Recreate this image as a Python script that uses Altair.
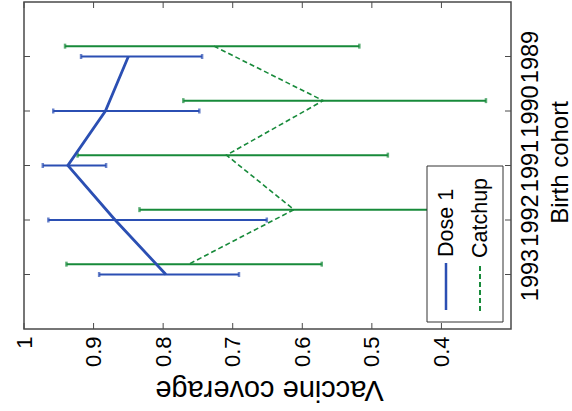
import altair as alt
import pandas as pd

# ---- data ----
cohorts = [1989, 1990, 1991, 1992, 1993]
dose1_mean = [0.850, 0.883, 0.937, 0.869, 0.796]
dose1_low = [0.744, 0.748, 0.882, 0.651, 0.691]
dose1_high = [0.918, 0.958, 0.973, 0.965, 0.892]
catchup_mean = [0.727, 0.570, 0.709, 0.612, 0.763]
catchup_low = [0.518, 0.336, 0.477, 0.350, 0.572]
catchup_high = [0.941, 0.771, 0.923, 0.834, 0.939]
x_ticks = [1.0, 0.9, 0.8, 0.7, 0.6, 0.5, 0.4]
legend_labels = ["Dose 1", "Catchup"]

FONT = "Liberation Sans"
BLUE = "#2b4fb3"
GREEN = "#178a3a"
FRAME = "#4a4a4a"
W, H = 487, 327

dose = pd.DataFrame({"cohort": cohorts, "value": dose1_mean,
                     "low": dose1_low, "high": dose1_high})
catch = pd.DataFrame({"cohort": cohorts, "value": catchup_mean,
                      "low": catchup_low, "high": catchup_high})

x_scale = alt.Scale(domain=[0.3, 1.0], reverse=True, nice=False, zero=False)
y_scale = alt.Scale(domain=[1988, 1994], reverse=True, nice=False, zero=False)

xax = alt.Axis(values=x_ticks, format="~g", labelAngle=270, labelFontSize=22,
               labelFont=FONT, labelColor="#000", labelPadding=7, labelFlush=False,
               labelOverlap=False, ticks=False, domain=False, grid=False,
               title="Vaccine coverage", titleFont=FONT, titleFontSize=29,
               titleFontWeight="normal", titleColor="#000", titleAngle=180,
               titleAlign="center", titleBaseline="alphabetic", titleX=245, titleY=51)
yax = alt.Axis(orient="right", values=cohorts, format="d", labelAngle=270,
               labelAlign="center", labelBaseline="top", labelFontSize=23.5,
               labelFont=FONT, labelColor="#000", labelPadding=7, labelFlush=False,
               labelOverlap=False, ticks=False, domain=False, grid=False,
               title="Birth cohort", titleFont=FONT, titleFontSize=24,
               titleFontWeight="normal", titleColor="#000", titleAngle=270,
               titleAlign="center", titleBaseline="alphabetic", titleX=56, titleY=160)


def X(field):
    return alt.X(f"{field}:Q", scale=x_scale, axis=xax)


def Y(field):
    return alt.Y(f"{field}:Q", scale=y_scale, axis=yax)


def series_layers(df, color, offset, dash, lw):
    base = alt.Chart(df).transform_calculate(pos=f"datum.cohort + ({offset})")
    bars = base.mark_rule(color=color, strokeWidth=2).encode(
        x=X("low"), x2="high:Q", y=Y("pos"))
    caps = base.transform_fold(["low", "high"], as_=["end", "v"]).mark_tick(
        color=color, orient="vertical", size=5, thickness=2.5).encode(
        x=X("v"), y=Y("pos"))
    line_kw = dict(color=color, strokeWidth=lw)
    if dash:
        line_kw["strokeDash"] = dash
    line = base.mark_line(**line_kw).encode(
        x=X("value"), y=Y("pos"), order="cohort:Q")
    return [bars, caps, line]


green_layers = series_layers(catch, GREEN, -0.19, [5, 3], 1.6)
blue_layers = series_layers(dose, BLUE, 0, None, 2.8)

xt = pd.DataFrame({"t": x_ticks})
yt = pd.DataFrame({"c": cohorts})
tick_top = alt.Chart(xt).mark_rule(color=FRAME, strokeWidth=1).encode(
    x=X("t"), y=alt.value(0), y2=alt.value(6))
tick_bot = alt.Chart(xt).mark_rule(color=FRAME, strokeWidth=1).encode(
    x=X("t"), y=alt.value(H - 6), y2=alt.value(H))
tick_left = alt.Chart(yt).mark_rule(color=FRAME, strokeWidth=1).encode(
    y=Y("c"), x=alt.value(0), x2=alt.value(6))
tick_right = alt.Chart(yt).mark_rule(color=FRAME, strokeWidth=1).encode(
    y=Y("c"), x=alt.value(W - 6), x2=alt.value(W))

one = pd.DataFrame({"a": [0]})
leg_box = alt.Chart(one).mark_rect(fill="white", stroke="#333333", strokeWidth=1).encode(
    x=alt.value(403), x2=alt.value(479), y=alt.value(164), y2=alt.value(320))
leg_blue = alt.Chart(one).mark_rule(color=BLUE, strokeWidth=2.5).encode(
    x=alt.value(422), y=alt.value(261), y2=alt.value(308))
leg_green = alt.Chart(one).mark_rule(color=GREEN, strokeWidth=2, strokeDash=[5, 3]).encode(
    x=alt.value(456), y=alt.value(264), y2=alt.value(309))
leg_t1 = alt.Chart(one).mark_text(angle=270, align="left", baseline="alphabetic",
                                  fontSize=21.5, font=FONT, color="#000").encode(
    x=alt.value(429), y=alt.value(255), text=alt.value(legend_labels[0]))
leg_t2 = alt.Chart(one).mark_text(angle=270, align="left", baseline="alphabetic",
                                  fontSize=21.5, font=FONT, color="#000").encode(
    x=alt.value(463), y=alt.value(256), text=alt.value(legend_labels[1]))

chart = alt.layer(
    *green_layers, *blue_layers,
    tick_top, tick_bot, tick_left, tick_right,
    leg_box, leg_blue, leg_green, leg_t1, leg_t2,
).properties(
    width=W, height=H,
    autosize=alt.AutoSizeParams(type="none"),
    padding={"left": 24, "top": 2, "right": 61, "bottom": 82},
    background="white",
).configure_view(stroke=FRAME, strokeWidth=1.5)

chart.save("out.html", embed_options={"renderer": "svg", "actions": False})
